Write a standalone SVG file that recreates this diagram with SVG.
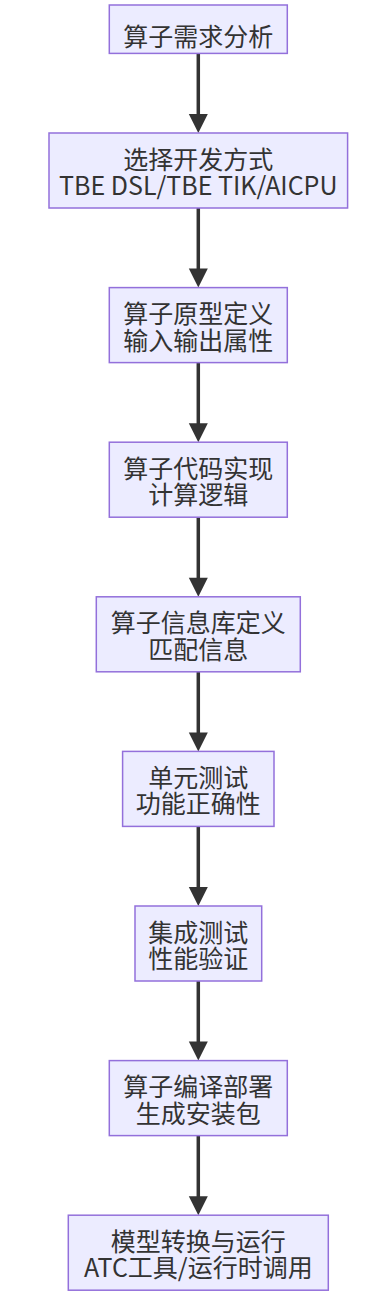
<svg xmlns="http://www.w3.org/2000/svg" width="381" height="1295" viewBox="0 0 381 1295">
<style>
.n rect{fill:#ECECFF;stroke:#9370DB;stroke-width:1.5}
.n text{font-family:"Noto Sans CJK SC","Noto Sans",sans-serif;font-size:25px;fill:#333;text-anchor:middle}
.e line{stroke:#333;stroke-width:3.5}
.e polygon{fill:#333}
</style>
<rect width="381" height="1295" fill="#fff"/>
<g class="e" id="edges">
<line x1="198.3" y1="53.4" x2="198.3" y2="116"/><polygon points="188.8,114 207.8,114 198.3,133"/>
<line x1="198.3" y1="208" x2="198.3" y2="270"/><polygon points="188.8,268.6 207.8,268.6 198.3,287.6"/>
<line x1="198.3" y1="362.6" x2="198.3" y2="425"/><polygon points="188.8,423.2 207.8,423.2 198.3,442.2"/>
<line x1="198.3" y1="517.2" x2="198.3" y2="580"/><polygon points="188.8,577.8 207.8,577.8 198.3,596.8"/>
<line x1="198.3" y1="671.8" x2="198.3" y2="734"/><polygon points="188.8,732.4 207.8,732.4 198.3,751.4"/>
<line x1="198.3" y1="826.4" x2="198.3" y2="889"/><polygon points="188.8,887 207.8,887 198.3,906"/>
<line x1="198.3" y1="981" x2="198.3" y2="1043"/><polygon points="188.8,1041.6 207.8,1041.6 198.3,1060.6"/>
<line x1="198.3" y1="1135.6" x2="198.3" y2="1198"/><polygon points="188.8,1196.2 207.8,1196.2 198.3,1215.2"/>
</g>
<g class="n" id="n1"><rect x="109.3" y="5" width="178" height="48.4"/><text x="198.3" y="46">算子需求分析</text></g>
<g class="n" id="n2"><rect x="49" y="133" width="298.6" height="75"/><text x="198.3" y="168.5">选择开发方式</text><text x="198.3" y="195">TBE DSL/TBE TIK/AICPU</text></g>
<g class="n" id="n3"><rect x="109.3" y="287.6" width="178" height="75"/><text x="198.3" y="323.1">算子原型定义</text><text x="198.3" y="349.6">输入输出属性</text></g>
<g class="n" id="n4"><rect x="109.3" y="442.2" width="178" height="75"/><text x="198.3" y="477.7">算子代码实现</text><text x="198.3" y="504.2">计算逻辑</text></g>
<g class="n" id="n5"><rect x="96.3" y="596.8" width="204" height="75"/><text x="198.3" y="632.3">算子信息库定义</text><text x="198.3" y="658.8">匹配信息</text></g>
<g class="n" id="n6"><rect x="122.6" y="751.4" width="151.4" height="75"/><text x="198.3" y="786.9">单元测试</text><text x="198.3" y="813.4">功能正确性</text></g>
<g class="n" id="n7"><rect x="135" y="906" width="126.7" height="75"/><text x="198.3" y="941.5">集成测试</text><text x="198.3" y="968">性能验证</text></g>
<g class="n" id="n8"><rect x="109.3" y="1060.6" width="178" height="75"/><text x="198.3" y="1096.1">算子编译部署</text><text x="198.3" y="1122.6">生成安装包</text></g>
<g class="n" id="n9"><rect x="68.3" y="1215.2" width="260" height="75"/><text x="198.3" y="1250.7">模型转换与运行</text><text x="198.3" y="1277.2">ATC工具/运行时调用</text></g>
</svg>
